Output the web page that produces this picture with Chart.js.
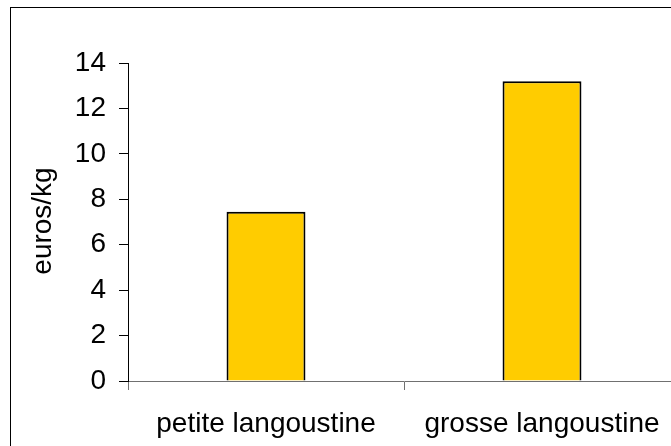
<!DOCTYPE html>
<html>
<head>
<meta charset="utf-8">
<script src="https://cdn.jsdelivr.net/npm/chart.js@4"></script>
<style>
    html, body { margin: 0; padding: 0; background: #fff; overflow: hidden; }
    body { width: 671px; height: 446px; position: relative; }
    #frame {
        position: absolute; left: 10px; top: 7px; width: 800px; height: 600px;
        border-left: 1px solid #000; border-top: 1px solid #000;
    }
    #chart { position: absolute; left: 0; top: 0; }
</style>
</head>
<body>
<div id="frame"></div>
<canvas id="chart" width="720" height="446"></canvas>
<script>
// données
const categories = ['petite langoustine', 'grosse langoustine'];
const prices = [7.45, 13.2];
const yMin = 0;
const yMax = 14;
const yStep = 2;
const yTitle = 'euros/kg';

const fontMain = { family: 'Liberation Sans, Arial, sans-serif', size: 28 };

// titre de l'axe Y dessiné à la main
const yTitlePlugin = {
    id: 'yTitle',
    afterDraw(chart) {
        const ctx = chart.ctx;
        ctx.save();
        ctx.translate(43, 221);
        ctx.rotate(-Math.PI / 2);
        ctx.font = fontMain.size + 'px ' + fontMain.family;
        ctx.fillStyle = '#000';
        ctx.textAlign = 'center';
        ctx.textBaseline = 'middle';
        ctx.fillText(yTitle, 0, 0);
        ctx.restore();
    }
};

new Chart(document.getElementById('chart'), {
    type: 'bar',
    data: {
        labels: categories,
        datasets: [{
            data: prices,
            backgroundColor: '#FFCC00',
            borderColor: '#000',
            borderWidth: 2,
            barPercentage: 0.286,
            categoryPercentage: 1
        }]
    },
    options: {
        responsive: false,
        animation: false,
        devicePixelRatio: 1,
        layout: { padding: { top: 63, right: 40, left: 0, bottom: 0 } },
        plugins: { legend: { display: false }, tooltip: { enabled: false } },
        scales: {
            x: {
                afterFit: scale => { scale.height = 65; },
                grid: { drawOnChartArea: false, tickLength: 9, color: '#707070', offset: true },
                border: { color: '#707070', width: 1 },
                ticks: { color: '#000', font: fontMain, padding: 17, maxRotation: 0 }
            },
            y: {
                min: yMin,
                max: yMax,
                afterFit: scale => { scale.width = 128; },
                grid: { drawOnChartArea: false, tickLength: 9, color: '#000' },
                border: { color: '#000', width: 1 },
                ticks: { stepSize: yStep, color: '#000', font: fontMain, padding: 13 }
            }
        }
    },
    plugins: [yTitlePlugin]
});
</script>
</body>
</html>
